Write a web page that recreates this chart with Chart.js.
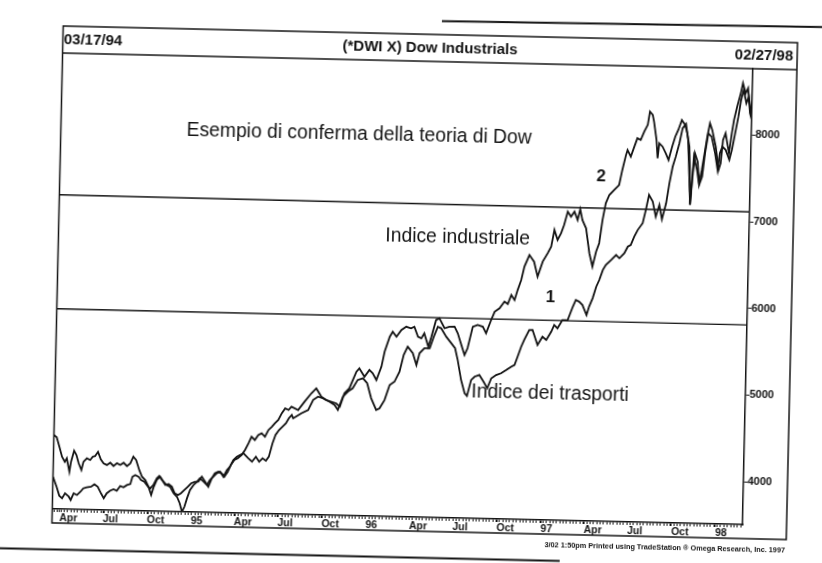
<!DOCTYPE html>
<html><head><meta charset="utf-8">
<script src="https://cdn.jsdelivr.net/npm/chart.js@4.4.1/dist/chart.umd.min.js"></script>
<style>
html,body{margin:0;padding:0;background:#fff;overflow:hidden;}
#wrap{width:822px;height:563px;transform:rotate(1.3deg);transform-origin:411px 281.5px;}
canvas{display:block;}
</style></head><body>
<div id="wrap"><canvas id="c" width="822" height="563"></canvas></div>
<script>
// ---- texts ----
const startDate = '03/17/94';
const endDate = '02/27/98';
const chartTitle = '(*DWI X) Dow Industrials';
const creditText = '3/02 1:50pm Printed using TradeStation \u00AE Omega Research, Inc. 1997';

// ---- x axis: days since 03/17/94 ----
const lastDay = 1443;
const quarterTickDays = [15,106,198,290,380,471,563,655,746,837,929,1021,1111,1202,1294,1386];
const quarterTickLabels = ['Apr','Jul','Oct','95','Apr','Jul','Oct','96','Apr','Jul','Oct','97','Apr','Jul','Oct','98'];
const priceTicks = [4000,5000,6000,7000,8000];

// ---- Dow Industrials ----
const indDays = [0,8,14,20,26,34,38,44,51,58,64,71,80,87,94,102,107,113,120,127,134,141,148,155,162,166,172,179,184,191,199,204,210,217,222,228,235,242,249,255,262,268,275,282,289,297,304,311,318,325,332,338,345,352,358,365,371,378,385,393,400,407,413,420,427,434,441,448,455,461,468,475,482,489,495,509,522,536,546,557,567,578,588,596,605,615,629,635,646,656,663,671,681,687,697,703,711,721,731,741,748,756,763,769,778,784,793,800,811,821,832,839,847,854,860,870,880,891,898,908,915,925,935,942,949,956,962,969,975,985,995,1003,1013,1023,1030,1036,1043,1050,1056,1063,1070,1077,1084,1089,1094,1102,1110,1117,1124,1130,1136,1142,1149,1159,1169,1175,1182,1185,1192,1199,1205,1212,1219,1226,1230,1236,1239,1245,1248,1251,1258,1265,1271,1278,1284,1290,1297,1304,1309,1314,1316,1318,1322,1326,1332,1336,1341,1345,1351,1356,1361,1369,1376,1380,1384,1389,1397,1402,1406,1412,1419,1423,1429,1434,1439,1443];
const indVals = [3877,3762,3659,3630,3688,3650,3612,3690,3672,3710,3751,3763,3771,3800,3773,3689,3641,3699,3730,3747,3732,3787,3773,3800,3812,3897,3917,3899,3861,3843,3786,3768,3807,3885,3912,3867,3810,3822,3792,3717,3698,3719,3757,3796,3836,3856,3857,3916,3859,3802,3900,3958,3977,3960,3921,3980,4058,4117,4137,4176,4235,4313,4390,4353,4411,4432,4393,4472,4511,4551,4590,4668,4726,4708,4747,4710,4807,4906,4965,4869,4833,4814,4797,4759,4915,4974,5167,5207,5111,5190,5153,5076,5231,5405,5579,5638,5581,5660,5699,5682,5701,5587,5569,5628,5474,5590,5784,5805,5691,5710,5712,5636,5502,5388,5466,5716,5737,5719,5644,5798,5895,5936,6013,5987,6092,6035,6151,6268,6422,6558,6482,6310,6485,6583,6660,6853,6739,6817,6913,7068,7011,7070,6975,7099,6976,6881,6594,6440,6614,6712,6981,7175,7271,7330,7389,7563,7737,7795,7719,7835,7933,7914,8011,8089,8243,8206,8129,7918,7707,7881,7843,7767,7691,7845,7961,8039,8155,8099,8004,7850,7581,7189,7504,7775,7679,7430,7584,7738,7970,8125,8048,7857,7589,7666,7936,8014,7784,8015,8169,8324,8479,8595,8480,8539,8251,8174];

// ---- Dow Transports (overlaid) ----
const trnDays = [0,6,12,18,24,28,34,37,43,48,53,59,63,70,77,82,87,93,99,105,112,119,126,133,140,147,154,161,167,173,180,186,193,200,206,211,217,224,231,238,245,253,260,266,271,276,281,287,294,301,307,315,322,328,335,342,349,356,363,369,376,383,390,397,407,415,423,430,437,444,450,457,463,470,477,484,490,496,499,516,530,540,550,560,574,585,592,602,612,622,632,643,652,661,672,679,689,699,709,719,727,735,746,754,760,770,781,789,797,804,815,826,834,840,848,856,861,869,876,886,895,903,911,921,931,942,952,959,965,972,978,988,995,1006,1016,1024,1034,1040,1047,1057,1068,1078,1084,1091,1098,1107,1112,1119,1126,1132,1139,1145,1156,1166,1173,1183,1190,1196,1203,1210,1220,1226,1232,1240,1247,1254,1260,1268,1274,1280,1286,1293,1299,1306,1311,1315,1318,1321,1324,1331,1336,1342,1347,1353,1360,1368,1374,1378,1383,1390,1398,1403,1409,1415,1420,1425,1431,1436,1441];
const trnVals = [4358,4332,4224,4109,4052,4092,3938,4054,4182,4133,4038,3961,4057,4097,4079,4117,4126,4176,4090,4044,4025,4053,4016,4048,4029,4056,4019,4051,4128,4091,3976,3900,3862,3786,3691,3787,3866,3905,3848,3810,3792,3717,3678,3603,3506,3565,3662,3759,3817,3856,3897,3858,3821,3880,3919,3959,3978,3921,3999,4038,4116,4155,4176,4196,4140,4102,4160,4103,4144,4117,4164,4319,4416,4474,4513,4553,4612,4651,4613,4673,4713,4830,4869,4852,4814,4778,4721,4876,4935,4975,5072,5093,5037,4865,4731,4751,4848,5022,5062,5178,5372,5469,5394,5260,5396,5455,5456,5591,5707,5690,5594,5519,5463,5329,5099,4946,4916,5101,5140,5161,5085,5010,5126,5165,5186,5226,5265,5286,5382,5498,5577,5693,5694,5522,5619,5582,5679,5757,5720,5817,5819,5973,6052,6033,5995,5881,5978,6076,6210,6288,6404,6463,6522,6581,6544,6603,6680,6700,6797,6875,6954,7108,7282,7206,7033,7169,7005,7190,7422,7614,7731,7886,8060,8110,7926,7523,7177,7466,7735,7583,7410,7507,7778,8009,7971,7780,7588,7781,7858,7821,7707,7823,8016,8209,8402,8518,8365,8442,8251];

// ---- drawn confirmation levels (previous highs) ----
const upperLevel = [7130, 7112];
const lowerLevel = [5815, 5808];

// ---- annotations (anchored in data units) ----
const notes = [
  {text:'Esempio di conferma della teoria di Dow', day:263, value:7899, align:'left', bold:false},
  {text:'Indice industriale', day:683, value:6740, align:'left', bold:false},
  {text:'Indice dei trasporti', day:870, value:4963, align:'left', bold:false},
  {text:'1', day:1031, value:6068, align:'center', bold:true},
  {text:'2', day:1131, value:7480, align:'center', bold:true}
];

const FONT = '"Liberation Sans", Arial, Helvetica, sans-serif';
const INK = '#141414';
const toXY = (d, v) => d.map((x, i) => ({x, y: v[i]}));

const framePlugin = {
  id: 'frame',
  afterDraw(chart) {
    const {ctx, chartArea: a, scales: {x, y}} = chart;
    const L = a.left, R = y.right, T = 34, B = x.bottom;
    ctx.save();
    ctx.strokeStyle = INK; ctx.lineWidth = 1.5;
    ctx.strokeRect(L, T, R - L, B - T);
    ctx.beginPath(); ctx.moveTo(L, a.top); ctx.lineTo(R, a.top); ctx.stroke();
    // edges of the printed page around the chart
    ctx.lineWidth = 2;
    ctx.beginPath(); ctx.moveTo(-20, 557.5); ctx.lineTo(566, 557.5); ctx.stroke();
    ctx.beginPath(); ctx.moveTo(436, 20.5); ctx.lineTo(840, 17.5); ctx.stroke();
    ctx.fillStyle = INK; ctx.textBaseline = 'middle';
    const hy = (T + a.top) / 2 + 0.5;
    ctx.font = 'bold 15px ' + FONT;
    ctx.textAlign = 'left'; ctx.fillText(startDate, L + 1, hy);
    ctx.textAlign = 'center'; ctx.fillText(chartTitle, (L + R) / 2, hy);
    ctx.textAlign = 'right'; ctx.fillText(endDate, R - 4, hy);
    notes.forEach(n => {
      ctx.font = (n.bold ? 'bold 17px ' : '19.3px ') + FONT;
      ctx.textAlign = n.align;
      ctx.fillText(n.text, x.getPixelForValue(n.day), y.getPixelForValue(n.value));
    });
    ctx.font = 'bold 7.3px ' + FONT;
    ctx.textAlign = 'right';
    ctx.fillText(creditText, R - 1, B + 11);
    ctx.restore();
  }
};

const lineDs = (label, data, w) => ({label, data, borderColor: INK, borderWidth: w, pointRadius: 0, tension: 0, fill: false});

new Chart(document.getElementById('c'), {
  type: 'line',
  data: {datasets: [
    lineDs('Indice industriale', toXY(indDays, indVals), 1.8),
    lineDs('Indice dei trasporti', toXY(trnDays, trnVals), 1.8),
    lineDs('Massimo precedente (industriale)', [{x:0, y:upperLevel[0]}, {x:lastDay, y:upperLevel[1]}], 1.4),
    lineDs('Massimo precedente (trasporti)', [{x:0, y:lowerLevel[0]}, {x:lastDay, y:lowerLevel[1]}], 1.4)
  ]},
  options: {
    responsive: false, animation: false, devicePixelRatio: 1,
    layout: {padding: {left: 57.5, top: 61, right: 30, bottom: 32}},
    plugins: {legend: {display: false}, tooltip: {enabled: false}},
    scales: {
      x: {
        type: 'linear', min: 0, max: lastDay, position: 'bottom',
        afterBuildTicks: s => {
          const set = new Set(quarterTickDays);
          for (let d = 4; d < lastDay; d += 7) set.add(d);
          s.ticks = [...set].sort((a, b) => a - b).map(v => ({value: v}));
        },
        afterFit: s => { s.height = 14; },
        ticks: {
          autoSkip: false, maxRotation: 0, minRotation: 0, align: 'start', padding: 0,
          color: INK, font: {family: FONT, size: 10.5, weight: 'bold'},
          callback: v => { const i = quarterTickDays.indexOf(v); return i >= 0 ? quarterTickLabels[i] : ''; }
        },
        grid: {drawOnChartArea: false, drawTicks: true, tickLength: 3, tickColor: INK, tickWidth: 1},
        border: {display: true, color: INK, width: 1.5}
      },
      y: {
        type: 'linear', position: 'right', min: 3505, max: 8765,
        afterBuildTicks: s => { s.ticks = priceTicks.map(v => ({value: v})); },
        afterFit: s => { s.width = 44; },
        ticks: {padding: 0, color: INK, font: {family: FONT, size: 11, weight: 'bold'}, callback: v => String(v)},
        grid: {drawOnChartArea: false, drawTicks: true, tickLength: 4, tickColor: INK},
        border: {display: true, color: INK, width: 1.5}
      }
    }
  },
  plugins: [framePlugin]
});
</script>
</body></html>
